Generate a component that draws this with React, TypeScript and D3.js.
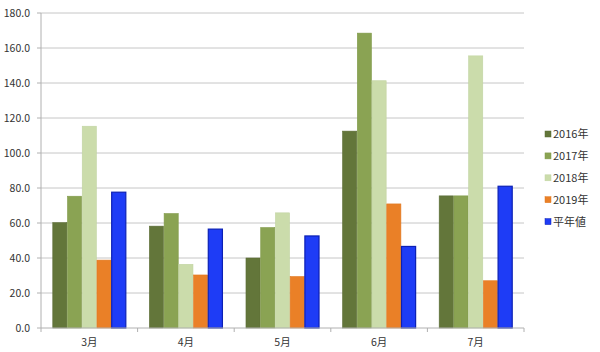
import * as d3 from 'd3'
import { useEffect, useRef } from 'react'

const months = ['3月', '4月', '5月', '6月', '7月']
const seriesNames = ['2016年', '2017年', '2018年', '2019年', '平年値']
const v2016 = [60.2, 58.2, 40.0, 112.5, 75.5]
const v2017 = [75.3, 65.4, 57.4, 168.5, 75.5]
const v2018 = [115.3, 36.4, 65.8, 141.3, 155.5]
const v2019 = [38.8, 30.3, 29.4, 70.9, 27.0]
const vNormal = [77.6, 56.5, 52.6, 46.6, 81.0]
const yTicks = [0, 20, 40, 60, 80, 100, 120, 140, 160, 180]

const fills = ['#63763a', '#8aa353', '#cbdcab', '#ea8027', '#1e3cf6']
const strokes = ['#5a6c34', '#809a4a', '#c2d4a2', '#e07820', '#0c20b5']

function App() {
  const ref = useRef<SVGSVGElement>(null)

  useEffect(() => {
    const svg = d3.select(ref.current)
    svg.selectAll('*').remove()

    const left = 41, right = 524, top = 13, bottom = 328
    const all = [v2016, v2017, v2018, v2019, vNormal]

    const x = d3.scaleBand<string>().domain(months).range([left, right])
    const xs = d3.scaleBand<string>().domain(seriesNames)
      .range([0, x.bandwidth()]).paddingInner(0).paddingOuter(0.78)
    const y = d3.scaleLinear().domain([0, 180]).range([bottom, top])

    const font = '"Noto Sans CJK JP", "DejaVu Sans", sans-serif'

    // grid
    svg.append('g').selectAll('line').data(yTicks.slice(1)).enter().append('line')
      .attr('x1', left).attr('x2', right)
      .attr('y1', d => y(d)).attr('y2', d => y(d))
      .attr('stroke', '#c6c6c6').attr('stroke-width', 1)

    // y axis
    const ya = svg.append('g')
    ya.append('line').attr('x1', left).attr('x2', left).attr('y1', top).attr('y2', bottom)
      .attr('stroke', '#b0b0b0')
    ya.selectAll('line.t').data(yTicks).enter().append('line').attr('class', 't')
      .attr('x1', left - 4).attr('x2', left).attr('y1', d => y(d)).attr('y2', d => y(d))
      .attr('stroke', '#b0b0b0')
    ya.selectAll('text').data(yTicks).enter().append('text')
      .attr('x', 30).attr('y', d => y(d) + 4)
      .attr('text-anchor', 'end').attr('font-size', 10.5).attr('font-family', font)
      .attr('fill', '#333').text(d => d.toFixed(1))

    // bars
    all.forEach((vals, si) => {
      svg.append('g').selectAll('rect').data(vals).enter().append('rect')
        .attr('x', (d, i) => (x(months[i]) as number) + (xs(seriesNames[si]) as number) + 0.3)
        .attr('y', d => y(d))
        .attr('width', xs.bandwidth() - 0.6)
        .attr('height', d => bottom - y(d))
        .attr('fill', fills[si])
        .attr('stroke', strokes[si]).attr('stroke-width', si === 4 ? 1.2 : 0.6)
    })

    // x axis
    const xa = svg.append('g')
    xa.append('line').attr('x1', left).attr('x2', right).attr('y1', bottom).attr('y2', bottom)
      .attr('stroke', '#b0b0b0')
    const bounds = months.map(m => x(m) as number).concat([right])
    xa.selectAll('line.t').data(bounds).enter().append('line').attr('class', 't')
      .attr('x1', d => d).attr('x2', d => d).attr('y1', bottom).attr('y2', bottom + 4)
      .attr('stroke', '#b0b0b0')
    xa.selectAll('text').data(months).enter().append('text')
      .attr('x', d => (x(d) as number) + x.bandwidth() / 2).attr('y', 346)
      .attr('text-anchor', 'middle').attr('font-size', 10.5).attr('font-family', font)
      .attr('fill', '#333').text(d => d)

    // legend
    const lg = svg.append('g').selectAll('g').data(seriesNames).enter().append('g')
      .attr('transform', (d, i) => `translate(545, ${134 + i * 21.9})`)
    lg.append('rect').attr('x', 0).attr('y', -3).attr('width', 6).attr('height', 6)
      .attr('fill', (d, i) => fills[i]).attr('stroke', (d, i) => strokes[i]).attr('stroke-width', 0.5)
    lg.append('text').attr('x', 8).attr('y', 4)
      .attr('font-size', 11).attr('font-family', font).attr('fill', '#333').text(d => d)
  })

  return (
    <svg ref={ref} width={600} height={352}
      style={{ position: 'absolute', left: 0, top: 0, background: '#fff' }} />
  )
}

export default App
